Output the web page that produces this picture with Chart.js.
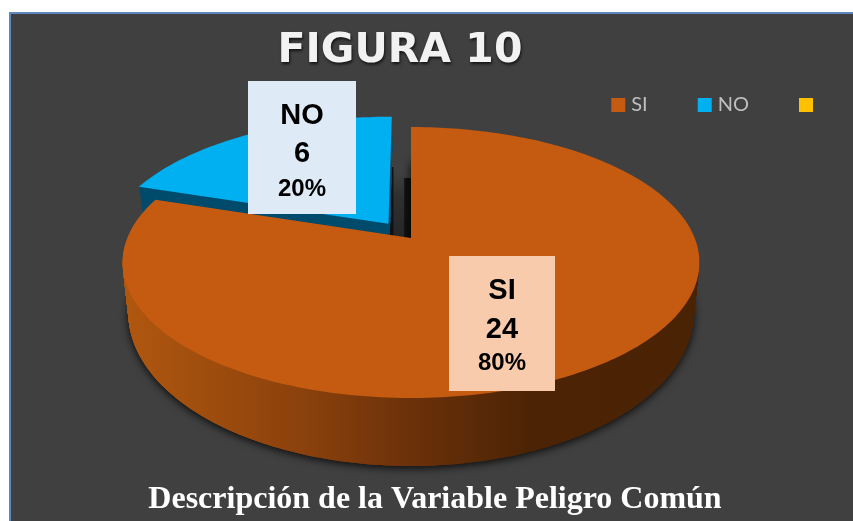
<!DOCTYPE html>
<html lang="es">
<head>
<meta charset="utf-8">
<title>Figura 10</title>
<script src="https://cdn.jsdelivr.net/npm/chart.js@4"></script>
<style>
html,body{margin:0;padding:0;background:#fff;width:853px;height:521px;overflow:hidden}
#frame{position:absolute;left:9px;top:12px;width:844px;height:509px;box-sizing:border-box;background:#404040;border-left:2px solid #5d87bd;border-top:2px solid #5d87bd}
#wrap{position:absolute;left:0;top:0;width:853px;height:521px}
</style>
</head>
<body>
<div id="frame"></div>
<div id="wrap"><canvas id="c" width="853" height="521"></canvas></div>
<script>
// ---- data ----
const categories = ['SI', 'NO', ''];
const values = [24, 6, 0];
const sliceColors = ['#c55a11', '#00b0f0', '#ffc000'];
const chartTitle = 'FIGURA 10';
const chartCaption = 'Descripción de la Variable Peligro Común';

// ---- look of the 3D disc (style only) ----
const VIEW = { cx: 411, cy: 238, a: 88.04, p: -0.1808, c: 283.7 };
const BASE = { midY: 262.5, shiftY: 313, scaleY: 1.129, scaleX: 0.98 };
const EXPLODE_OFFSET = 20;
const wallColors = [
  [[0, '#b0570f'], [0.3, '#8c420c'], [0.5, '#6b310a'], [0.7, '#4c2405'], [1, '#4a2304']],
  [[0, '#004a6b'], [1, '#004a6b']]
];
const labelBoxes = [
  { x: 449, y: 256, w: 106, h: 135, fill: '#f8cbad', base: [299, 338, 370] },
  { x: 248, y: 81, w: 108, h: 133, fill: '#deebf7', base: [124, 162, 196] }
];
const LEGEND_SHIFT = { x: 20, y: -38 };
const TITLE_SHIFT = -35;

function project(u, v) {
  const d = 1 + VIEW.p * v;
  return [VIEW.cx + VIEW.c * u / d, (VIEW.a * v + VIEW.cy) / d];
}
function sectorOutline(arc) {
  const p = arc.getProps(['startAngle', 'endAngle', 'outerRadius'], true);
  const off = (arc.options.offset || 0) / p.outerRadius;
  const mid = (p.startAngle + p.endAngle) / 2;
  const ox = Math.cos(mid) * off, oy = Math.sin(mid) * off;
  const pts = [project(ox, oy)];
  const n = Math.max(2, Math.ceil((p.endAngle - p.startAngle) / 0.02));
  for (let i = 0; i <= n; i++) {
    const a = p.startAngle + (p.endAngle - p.startAngle) * i / n;
    pts.push(project(ox + Math.cos(a), oy + Math.sin(a)));
  }
  return pts;
}
function tracePts(ctx, pts, t) {
  ctx.beginPath();
  pts.forEach(([x, y], i) => {
    const bx = VIEW.cx + (x - VIEW.cx) * BASE.scaleX;
    const by = BASE.shiftY + (y - BASE.midY) * BASE.scaleY;
    const px = x + (bx - x) * t, py = y + (by - y) * t;
    if (i) ctx.lineTo(px, py); else ctx.moveTo(px, py);
  });
  ctx.closePath();
}
function drawGap(ctx, left) {
  const right = VIEW.cx, w = right - left, bottom = VIEW.cy;
  const mid = ctx.createLinearGradient(0, bottom - 66, 0, bottom);
  mid.addColorStop(0, '#404040'); mid.addColorStop(0.35, '#303030'); mid.addColorStop(1, '#262626');
  ctx.fillStyle = mid;
  ctx.fillRect(left, bottom - 66, w, 66);
  ctx.fillStyle = '#101010';
  ctx.fillRect(left, bottom - 71, w * 0.22, 71);
  ctx.fillRect(right - w * 0.3, bottom - 60, w * 0.3, 60);
}

const disc3d = {
  id: 'disc3d',
  beforeDatasetDraw(chart) {
    const ctx = chart.ctx;
    const arcs = chart.getDatasetMeta(0).data;
    ctx.save();
    for (let i = arcs.length - 1; i >= 0; i--) {
      if (!values[i]) continue;
      const pts = sectorOutline(arcs[i]);
      if (arcs[i].options.offset) drawGap(ctx, pts[0][0]);
      const wg = ctx.createLinearGradient(125, 0, 700, 0);
      wallColors[i].forEach(s => wg.addColorStop(s[0], s[1]));
      ctx.fillStyle = wg;
      if (i === 0) {
        ctx.save();
        ctx.shadowColor = 'rgba(0,0,0,.85)'; ctx.shadowBlur = 8; ctx.shadowOffsetY = 2;
        tracePts(ctx, pts, 1); ctx.fill();
        ctx.restore();
      }
      const steps = 70;
      for (let s = steps; s > 0; s--) { tracePts(ctx, pts, s / steps); ctx.fill(); }
      ctx.fillStyle = sliceColors[i];
      tracePts(ctx, pts, 0); ctx.fill();
    }
    ctx.restore();
    return false;
  },
  afterDatasetsDraw(chart) {
    const ctx = chart.ctx;
    const total = values.reduce((a, b) => a + b, 0);
    ctx.save();
    labelBoxes.forEach((b, i) => {
      ctx.fillStyle = b.fill;
      ctx.fillRect(b.x, b.y, b.w, b.h);
      ctx.fillStyle = '#000';
      ctx.textAlign = 'center';
      ctx.textBaseline = 'alphabetic';
      const cx = b.x + b.w / 2;
      ctx.font = 'bold 29px "Liberation Sans"';
      ctx.fillText(categories[i], cx, b.base[0]);
      ctx.fillText(String(values[i]), cx, b.base[1]);
      ctx.font = 'bold 24px "Liberation Sans"';
      ctx.fillText(Math.round(values[i] / total * 100) + '%', cx, b.base[2]);
    });
    ctx.restore();
  },
  afterLayout(chart) {
    const t = chart.titleBlock;
    if (t) {
      t.left += TITLE_SHIFT; t.right += TITLE_SHIFT;
      if (!t._styled) {
        t._styled = true;
        const orig = t.draw.bind(t);
        t.draw = function () {
          const ctx = this.ctx;
          ctx.save();
          ctx.shadowColor = 'rgba(0,0,0,.7)'; ctx.shadowBlur = 3; ctx.shadowOffsetY = 2; ctx.shadowOffsetX = 1;
          orig();
          ctx.restore();
        };
      }
    }
    const l = chart.legend;
    if (l) {
      l.left += LEGEND_SHIFT.x; l.right += LEGEND_SHIFT.x;
      l.top += LEGEND_SHIFT.y; l.bottom += LEGEND_SHIFT.y;
    }
  }
};

new Chart(document.getElementById('c'), {
  type: 'pie',
  data: {
    labels: categories,
    datasets: [{ data: values, backgroundColor: sliceColors, borderWidth: 0, offset: [0, EXPLODE_OFFSET, 0] }]
  },
  plugins: [disc3d],
  options: {
    responsive: false,
    animation: false,
    layout: { padding: { left: 17, right: 0, top: 0, bottom: 0 } },
    plugins: {
      tooltip: { enabled: false },
      title: {
        display: true, text: chartTitle, color: '#f2f2f2',
        font: { family: '"DejaVu Sans"', size: 41, weight: 'bold', lineHeight: 1 },
        padding: { top: 31, bottom: 7 }
      },
      subtitle: {
        display: true, text: chartCaption, position: 'bottom', color: '#ffffff',
        font: { family: '"Liberation Serif"', size: 32, weight: 'bold', lineHeight: 1 },
        padding: { top: 11, bottom: 5 }
      },
      legend: {
        position: 'top', align: 'end',
        labels: {
          color: '#bfbfbf', usePointStyle: true, pointStyle: 'rect', boxWidth: 6, boxHeight: 14, padding: 54,
          font: { family: 'Lato', size: 20 }
        }
      }
    }
  }
});
</script>
</body>
</html>
